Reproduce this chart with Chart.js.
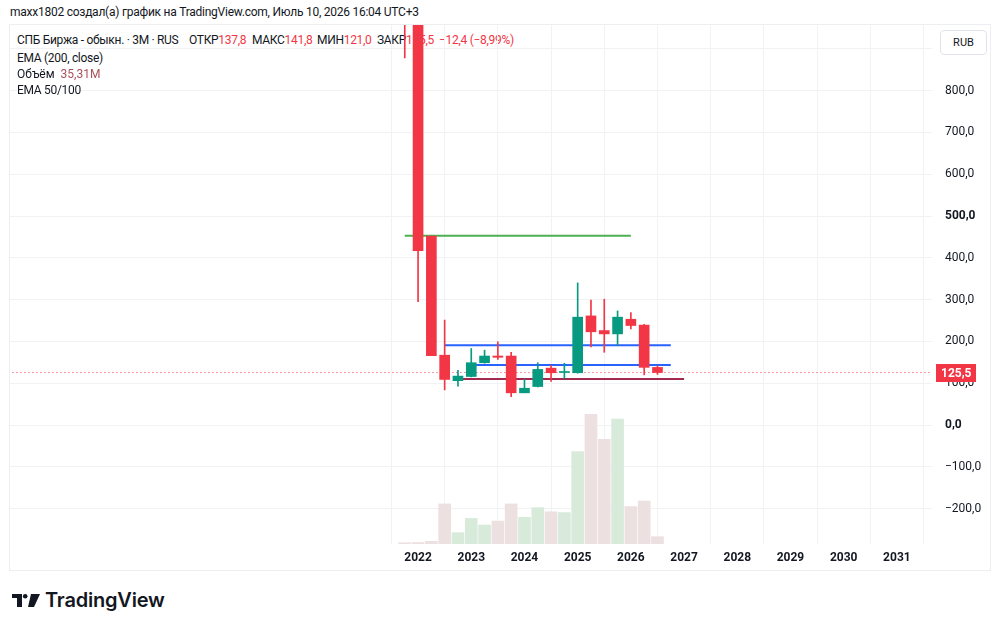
<!DOCTYPE html>
<html lang="ru">
<head>
<meta charset="utf-8">
<title>СПБ Биржа - обыкн. · 3M</title>
<script src="https://cdn.jsdelivr.net/npm/chart.js@4.4.0/dist/chart.umd.min.js"></script>
<style>
  html, body { margin: 0; padding: 0; background: #fff; }
  body { width: 1000px; height: 629px; position: relative; overflow: hidden;
         font-family: Roboto, "Liberation Sans", sans-serif; color: #131722; }
  #hdr { position: absolute; left: 10px; top: 4px; font-size: 12px; line-height: 16px; white-space: nowrap; letter-spacing: -0.25px; }
  #frame { position: absolute; left: 9px; top: 24px; width: 982px; height: 547px;
           border: 1px solid #eceef2; box-sizing: border-box; }
  .legend { position: absolute; left: 0; top: 0; font-size: 12px; }
  .legend div { position: absolute; white-space: nowrap; line-height: 16px; }
  #legend1 { z-index: 0; }
  #legend2 { z-index: 2; }
  #legend2 div { background: #fff; }
  .v { color: #f23645; }
  .vol { color: #a9505a; }
  .tight { letter-spacing: -0.3px; }
  #wrap { position: absolute; left: 0; top: 0; width: 1000px; height: 629px; z-index: 1; }
  #rub { position: absolute; left: 940px; top: 30px; width: 47px; height: 25px; z-index: 2;
         border: 1px solid #e0e3eb; border-radius: 4px; box-sizing: border-box; background: #fff;
         font-size: 11px; text-align: center; line-height: 23px; }
  #logo { position: absolute; left: 12px; top: 588px; height: 24px; display: flex; align-items: center; }
  #logo span { font-family: Inter, Roboto, sans-serif; font-weight: 600; font-size: 20px; margin-left: 5px; letter-spacing: -0.2px; }
</style>
</head>
<body>
<div id="hdr">maxx1802 создал(а) график на TradingView.com, Июль 10, 2026 16:04 UTC+3</div>
<div id="frame"></div>
<div id="legend1" class="legend">
  <div style="left:17px; top:32px" class="tight">СПБ Биржа - обыкн. · 3M · RUS</div>
  <div style="left:189px; top:32px" class="tight">ОТКР<span class="v">137,8</span></div>
  <div style="left:252px; top:32px" class="tight">МАКС<span class="v">141,8</span></div>
  <div style="left:317px; top:32px" class="tight">МИН<span class="v">121,0</span></div>
  <div style="left:377px; top:32px" class="tight">ЗАКР<span class="v">125,5</span></div>
  <div style="left:439px; top:32px" class="v tight">−12,4 (−8,99%)</div>
</div>
<div id="wrap"><canvas id="c" width="1000" height="629"></canvas></div>
<div id="legend2" class="legend">
  <div style="left:17px; top:50px" class="tight">EMA (200, close)</div>
  <div style="left:17px; top:66px">Объём&nbsp;&nbsp;<span class="vol">35,31M</span></div>
  <div style="left:17px; top:82px" class="tight">EMA 50/100</div>
</div>
<div id="rub">RUB</div>
<div id="logo">
  <svg width="28" height="13" viewBox="0 0 28 13">
    <path d="M0 0h10v13H5V4H0z" fill="#131722"/>
    <circle cx="13.2" cy="2.3" r="2.3" fill="#131722"/>
    <path d="M19 0h9l-6 13h-6z" fill="#131722"/>
  </svg>
  <span>TradingView</span>
</div>
<script>
// --- ДАННЫЕ (квартальные свечи) ---
const quarters = [2021.75, 2022, 2022.25, 2022.5, 2022.75, 2023, 2023.25, 2023.5, 2023.75,
                  2024, 2024.25, 2024.5, 2024.75, 2025, 2025.25, 2025.5, 2025.75, 2026, 2026.25, 2026.5];
const opens  = [1900, 1500, 452, 167, 106, 116, 149, 165, 165, 77, 92, 136, 125.6, 125, 261, 226, 218, 253, 239, 137.8];
const highs  = [2000, 1560, 452, 251, 131, 183, 179, 199, 174, 109, 149, 143, 147.6, 340, 299, 301, 273, 269, 241, 141.8];
const lows   = [878, 295, 166, 84, 93, 115, 148, 157, 68, 77, 91, 104, 111.7, 124, 187, 174, 191, 230, 120, 121.0];
const closes = [1500, 417, 166, 109, 117, 149, 165, 162, 77, 88, 133, 125, 128, 258, 223, 218, 258, 238, 137.9, 125.5];
const volumes = [6, 7, 13, 194, 55, 124, 92, 111, 194, 129, 176, 156, 152, 447, 628, 507, 605, 181, 208, 35.31]; // млн

// горизонтальные уровни
const levelPrices = [453, 191, 143.5, 110];
const levelStart  = [2021.75, 2022.5, 2023, 2022.75];
const levelEnd    = [2026, 2026.75, 2026.75, 2027];
const levelColors = ['#4caf50', '#2962ff', '#2962ff', '#a3294f'];

const xTicks = [2022, 2023, 2024, 2025, 2026, 2027, 2028, 2029, 2030, 2031];
const yTicks = [-200, -100, 0, 100, 200, 300, 400, 500, 600, 700, 800, 900];
const lastClose = 125.5;

const UP = '#089981', DOWN = '#f23645';
const isUp = quarters.map((q, i) => closes[i] >= opens[i]);
const fmt = v => v.toFixed(1).replace('.', ',').replace('-', '−');

const datasets = [];

datasets.push({
    type: 'bar', label: 'Объём', yAxisID: 'yv', order: 10, grouped: false, barThickness: 12,
    data: quarters.map((q, i) => ({ x: q, y: volumes[i] })),
    backgroundColor: isUp.map(u => u ? '#d8ebdb' : '#ede0e1'),
    clip: 0
});

levelPrices.forEach((p, k) => {
    datasets.push({
        type: 'line', order: 5, yAxisID: 'y',
        data: [{ x: levelStart[k], y: p }, { x: levelEnd[k], y: p }],
        borderColor: levelColors[k], borderWidth: 2, pointRadius: 0, clip: 0
    });
});

datasets.push({
    type: 'line', order: 6, yAxisID: 'y',
    data: [{ x: 2014, y: lastClose }, { x: 2032, y: lastClose }],
    borderColor: DOWN, borderWidth: 1, borderDash: [1, 3], pointRadius: 0, clip: 0
});

datasets.push({
    type: 'bar', label: 'wick', yAxisID: 'y', order: 2, grouped: false, barThickness: 1,
    data: quarters.map((q, i) => ({ x: q, y: [lows[i], highs[i]] })),
    backgroundColor: isUp.map(u => u ? UP : DOWN), clip: 0
});

datasets.push({
    type: 'bar', label: 'body', yAxisID: 'y', order: 1, grouped: false, barThickness: 10,
    data: quarters.map((q, i) => ({ x: q, y: [opens[i], closes[i]] })),
    backgroundColor: isUp.map(u => u ? UP : DOWN), clip: 0, minBarLength: 1
});

const lastPriceTag = {
    id: 'lastPriceTag',
    afterDraw(chart) {
        const ctx = chart.ctx;
        const y = Math.round(chart.scales.y.getPixelForValue(lastClose));
        const x = chart.chartArea.right + 4;
        ctx.save();
        ctx.fillStyle = DOWN;
        ctx.fillRect(x, y - 9, 40, 18);
        ctx.fillStyle = '#fff';
        ctx.font = 'bold 12px Roboto';
        ctx.textBaseline = 'middle';
        ctx.fillText(fmt(lastClose), x + 5, y + 1);
        ctx.restore();
    }
};

new Chart(document.getElementById('c'), {
    type: 'bar',
    data: { datasets },
    options: {
        responsive: false, animation: false,
        layout: { padding: { left: 10, top: 25, right: 0, bottom: 0 } },
        plugins: { legend: { display: false }, tooltip: { enabled: false } },
        scales: {
            x: {
                type: 'linear', min: 2014.33, max: 2031.66, offset: false,
                afterBuildTicks: s => { s.ticks = xTicks.map(v => ({ value: v })); },
                afterFit: s => { s.height = 85; },
                grid: { color: '#f0f2f5', drawTicks: false },
                border: { display: false },
                ticks: { padding: 7, color: '#131722', font: { family: 'Roboto', size: 12, weight: 'bold' },
                         callback: v => String(v), maxRotation: 0 }
            },
            y: {
                position: 'right', min: -284.7, max: 957,
                afterBuildTicks: s => { s.ticks = yTicks.map(v => ({ value: v })); },
                afterFit: s => { s.width = 68; },
                grid: { color: '#f0f2f5', drawTicks: false },
                border: { display: false },
                ticks: { padding: 13, color: '#131722', callback: v => fmt(v),
                         font: ctx => ({ family: 'Roboto', size: 12,
                                         weight: (ctx.tick && (ctx.tick.value === 500 || ctx.tick.value === 0)) ? 'bold' : 'normal' }) }
            },
            yv: { display: false, min: 0, max: 2512 }
        }
    },
    plugins: [lastPriceTag]
});
</script>
</body>
</html>
